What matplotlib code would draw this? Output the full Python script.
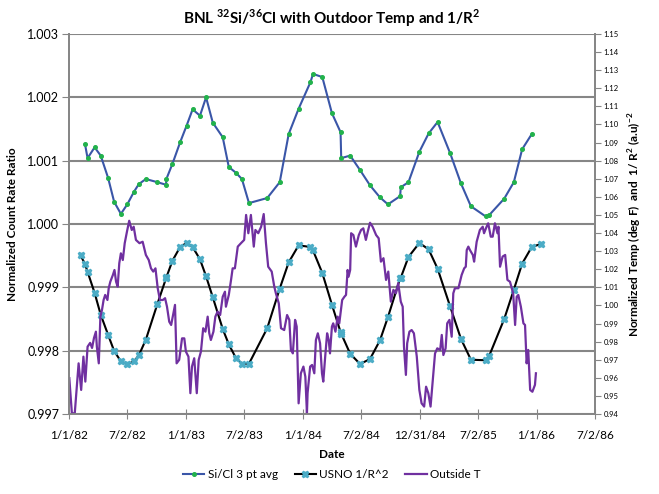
import numpy as np
import matplotlib
matplotlib.use("Agg")
import matplotlib.pyplot as plt

plt.rcParams['font.family'] = ['Lato', 'DejaVu Sans']
plt.rcParams['mathtext.fontset'] = 'custom'
plt.rcParams['mathtext.rm'] = 'Lato'
plt.rcParams['mathtext.bf'] = 'Lato:bold'

# days since 1/1/82 of each USNO sample (Si/Cl 3 pt avg drops the first and last)
sample_days = [36, 50, 58, 80, 99, 122, 141, 162, 182, 203,
               218, 240, 276, 303, 304, 323, 347, 367, 386, 409,
               428, 449, 480, 499, 521, 540, 562, 619, 658, 686,
               717, 754, 762, 791, 821, 848, 850, 878, 909, 940,
               971, 996, 1034, 1036, 1060, 1094, 1123, 1151, 1190, 1224,
               1255, 1301, 1312, 1359, 1389, 1415, 1445, 1474]

usno_inv_r2 = [1.0277, 1.0229, 1.0186, 1.0069, 0.9949, 0.9838, 0.9748, 0.9691, 0.9675, 0.9691,
               0.9724, 0.9811, 1.0008, 1.0150, 1.0155, 1.0247, 1.0323, 1.0345, 1.0323, 1.0255,
               1.0161, 1.0045, 0.9870, 0.9785, 0.9710, 0.9678, 0.9678, 0.9874, 1.0093, 1.0238,
               1.0332, 1.0323, 1.0304, 1.0179, 1.0004, 0.9853, 0.9844, 0.9733, 0.9676, 0.9704,
               0.9807, 0.9936, 1.0150, 1.0153, 1.0268, 1.0345, 1.0310, 1.0203, 0.9995, 0.9815,
               0.9700, 0.9697, 0.9721, 0.9925, 1.0087, 1.0231, 1.0323, 1.0340]

sicl_avg = [1.00126, 1.00104, 1.00121, 1.00108, 1.00073, 1.00035, 1.00016, 1.00031, 1.00051, 1.00063,
            1.00071, 1.00066, 1.00062, 1.00071, 1.00095, 1.00129, 1.00155, 1.00181, 1.00171, 1.00200,
            1.00160, 1.00137, 1.00090, 1.00081, 1.00071, 1.00033, 1.00041, 1.00066, 1.00142, 1.00182,
            1.00224, 1.00237, 1.00232, 1.00175, 1.00145, 1.00104, 1.00108, 1.00085, 1.00061, 1.00042,
            1.00031, 1.00044, 1.00058, 1.00066, 1.00114, 1.00143, 1.00161, 1.00112, 1.00064, 1.00028,
            1.00012, 1.00014, 1.00040, 1.00066, 1.00118, 1.00142]

# outside temperature, normalized
temp_days = [1, 9, 18, 30, 38, 45, 51, 58, 66, 72, 78, 84, 87, 93, 98, 103, 108, 113, 120, 124,
             129, 137, 142, 147, 152, 157, 162, 168, 174, 181, 188, 196, 202, 209, 220, 230, 240,
             249, 256, 263, 270, 277, 284, 293, 300, 306, 313, 319, 324, 331, 336, 344, 353, 360,
             365, 373, 379, 384, 391, 399, 405, 412, 419, 426, 433, 438, 443, 451, 457, 464, 472,
             480, 487, 490, 499, 506, 511, 518, 527, 537, 547, 553, 560, 568, 577, 582, 591, 600,
             608, 615, 622, 633, 641, 646, 655, 662, 672, 681, 688, 693, 699, 706, 711, 717, 724,
             732, 738, 743, 745, 753, 759, 766, 771, 777, 784, 790, 794, 800, 806, 811, 815, 821,
             825, 832, 839, 844, 853, 860, 865, 870, 873, 878, 881, 888, 896, 905, 912, 919, 927,
             933, 940, 948, 959, 967, 974, 982, 990, 997, 1005, 1013, 1021, 1028, 1036, 1042, 1046,
             1052, 1056, 1063, 1070, 1077, 1086, 1094, 1101, 1109, 1115, 1122, 1129, 1136, 1143,
             1150, 1159, 1164, 1169, 1176, 1181, 1188, 1195, 1200, 1205, 1216, 1226, 1234, 1239,
             1242, 1247, 1252, 1261, 1265, 1273, 1283, 1292, 1296, 1304, 1309, 1317, 1323, 1330,
             1338, 1341, 1346, 1354, 1362, 1369, 1377, 1387, 1393, 1398, 1403, 1411, 1419, 1424,
             1429, 1434, 1440, 1447, 1455, 1458]

outside_t = [0.9598, 0.9404, 0.9404, 0.9680, 0.9533, 0.9717, 0.9579, 0.9772, 0.9793, 0.9765,
             0.9820, 0.9855, 0.9772, 0.9680, 0.9938, 0.9975, 1.0030, 1.0058, 1.0030, 1.0095,
             1.0131, 1.0168, 1.0196, 1.0131, 1.0104, 1.0233, 1.0288, 1.0251, 1.0344, 1.0408,
             1.0468, 1.0417, 1.0435, 1.0362, 1.0344, 1.0352, 1.0279,
             1.0251, 1.0205, 1.0187, 1.0205, 1.0095, 1.0030, 1.0030, 1.0040, 0.9993, 0.9910,
             0.9892, 0.9938, 1.0003, 0.9680, 0.9699, 0.9818, 0.9818,
             0.9745, 0.9717, 0.9515, 0.9662, 0.9708, 0.9515, 0.9699, 0.9745, 0.9874, 0.9855,
             0.9938, 0.9846, 0.9809, 0.9855, 0.9938, 0.9966, 0.9947,
             1.0048, 1.0076, 0.9993, 1.0058, 1.0141, 1.0205, 1.0205, 1.0325, 1.0344, 1.0362,
             1.0500, 1.0399, 1.0500, 1.0325, 1.0417, 1.0399, 1.0435,
             1.0505, 1.0344, 1.0214, 1.0187, 1.0104, 1.0067, 1.0012, 0.9874, 0.9864, 0.9947,
             0.9920, 0.9754, 0.9735, 0.9920, 0.9883, 0.9459, 0.9625,
             0.9662, 0.9606, 0.9404, 0.9515, 0.9662, 0.9671, 0.9625, 0.9809, 0.9846, 0.9791,
             0.9625, 0.9579, 0.9717, 0.9846, 0.9809, 0.9735, 0.9883,
             0.9901, 0.9855, 0.9938, 0.9901, 1.0030, 1.0048, 1.0058, 1.0196, 1.0159, 1.0196,
             1.0399, 1.0389, 1.0325, 1.0389, 1.0417, 1.0426, 1.0362,
             1.0408, 1.0457, 1.0435, 1.0389, 1.0371, 1.0242, 1.0261, 1.0141, 1.0187, 1.0021,
             1.0086, 1.0067, 1.0123, 1.0021, 0.9993, 0.9772,
             0.9616, 0.9791, 0.9855, 0.9864, 0.9846, 0.9717, 0.9533, 0.9459, 0.9441, 0.9551,
             0.9515, 0.9441, 0.9588, 0.9735,
             0.9763, 0.9754, 0.9837, 0.9726, 0.9763, 0.9901, 0.9920, 0.9827, 1.0067, 1.0095,
             1.0095, 1.0168, 1.0205, 1.0214,
             1.0306, 1.0325, 1.0306, 1.0279, 1.0242, 1.0352, 1.0417, 1.0435, 1.0399, 1.0435,
             1.0454, 1.0380, 1.0380, 1.0454,
             1.0399, 1.0435, 1.0214, 1.0270, 1.0279, 1.0141, 1.0131, 1.0067, 0.9892, 1.0048,
             1.0058, 0.9993, 0.9901, 0.9892,
             0.9680, 0.9754, 0.9533, 0.9523, 0.9561, 0.9625]

tick_labels = ['1/1/82', '7/2/82', '1/1/83', '7/2/83', '1/1/84', '7/2/84',
               '12/31/84', '7/2/85', '1/1/86', '7/2/86']

grid_gray = '#868686'

fig = plt.figure(figsize=(6.59, 4.94), dpi=100)
ax = fig.add_axes([69 / 659, 80 / 494, 526 / 659, 380 / 494])
ax2 = ax.twinx()

# left axis: count rate ratio
l1, = ax.plot(sample_days[1:-1], sicl_avg, color='#3A56A8', lw=1.5,
              marker='o', ms=2.6, mfc='#22B24C', mec='#22B24C', label='Si/Cl 3 pt avg')
ax.set_xlim(0, 9 * 182.5)
ax.set_ylim(0.997, 1.003)
ax.set_yticks(np.arange(0.997, 1.0031, 0.001))
ax.set_yticklabels(['%.3f' % v for v in np.arange(0.997, 1.0031, 0.001)])
ax.set_xticks(np.arange(10) * 182.5)
ax.set_xticklabels(tick_labels)
ax.grid(True, axis='y', color=grid_gray, lw=1.5)
ax.set_axisbelow(True)
ax.tick_params(axis='y', labelsize=9, length=5, color=grid_gray, direction='out', pad=2)
ax.tick_params(axis='x', labelsize=8.5, length=7, color=grid_gray, direction='inout', pad=8)
ax.set_ylabel('Normalized Count Rate Ratio', fontsize=8.5, fontweight='bold', labelpad=7)
ax.set_xlabel('Date', fontsize=8.5, fontweight='bold', labelpad=6)

# right axis: USNO 1/R^2 and outside temperature
l2, = ax2.plot(sample_days, usno_inv_r2, color='black', lw=1.5,
               marker='X', ms=4.6, mfc='#4BACC6', mec='#4BACC6', label='USNO 1/R^2')
l3, = ax2.plot(temp_days, outside_t, color='#7030A0', lw=1.6,
               solid_joinstyle='round', label='Outside T')
ax2.set_ylim(0.94, 1.15)
ax2.set_yticks(np.arange(0.94, 1.1501, 0.01))
ax2.set_yticklabels(['%.2f' % v for v in np.arange(0.94, 1.1501, 0.01)])
ax2.tick_params(axis='y', labelsize=5.5, length=4, color=grid_gray, pad=2)
ax2.set_ylabel(r'Normalized Temp (deg F)  and  1/ R$^{\mathbf{2}}$ (a.u)$^{\mathbf{-2}}$',
               fontsize=8.5, fontweight='bold', labelpad=6)

for a in (ax, ax2):
    a.spines['top'].set_visible(False)
    for s in ('left', 'right', 'bottom'):
        a.spines[s].set_color(grid_gray)
        a.spines[s].set_linewidth(1.3)

fig.suptitle(r'BNL $^{\mathbf{32}}$Si/$^{\mathbf{36}}$Cl with Outdoor Temp and 1/R$^{\mathbf{2}}$',
             x=332 / 659, y=0.985, fontsize=11, fontweight='bold')

fig.legend(handles=[l1, l2, l3], loc='center', bbox_to_anchor=(332 / 659, 0.04),
           ncol=3, frameon=False, fontsize=8.5, handlelength=1.8, columnspacing=1.4,
           handletextpad=0.3)

fig.savefig('out.png', dpi=100)
